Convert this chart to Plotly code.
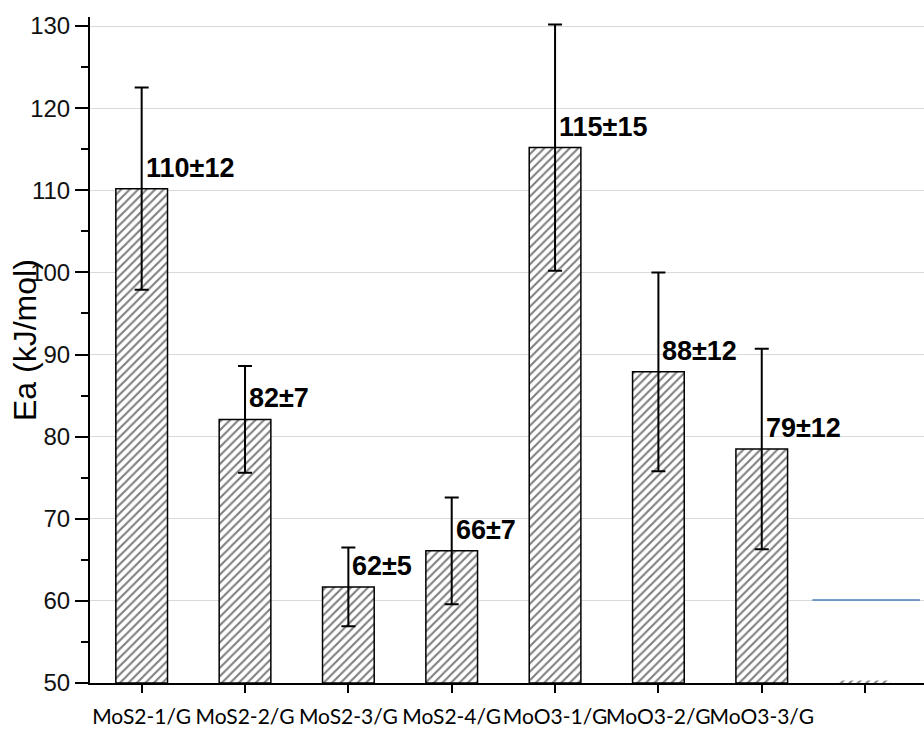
import plotly.graph_objects as go

categories = ["MoS2-1/G", "MoS2-2/G", "MoS2-3/G", "MoS2-4/G",
              "MoO3-1/G", "MoO3-2/G", "MoO3-3/G", ""]
ea_values = [110.2, 82.1, 61.7, 66.1, 115.2, 87.9, 78.5]
ea_errors = [12.3, 6.5, 4.8, 6.5, 15.0, 12.1, 12.2]
value_labels = ["110±12", "82±7", "62±5", "66±7", "115±15", "88±12", "79±12"]

stub_x = [7]
stub_value = [50.3]

ref_line_x = [6.49, 7.53]
ref_line_y = [60.1, 60.1]

x_pos = list(range(len(categories)))
bar_x = x_pos[:len(ea_values)]

hatch = dict(shape="/", fgcolor="black", bgcolor="white", size=6, solidity=0.35)

fig = go.Figure()
fig.add_trace(go.Bar(
    x=bar_x, y=[v - 50 for v in ea_values], base=50,
    width=0.5,
    marker=dict(color="white", line=dict(color="black", width=1.5), pattern=hatch),
    error_y=dict(type="data", array=ea_errors, visible=True,
                 color="black", thickness=2, width=7),
    showlegend=False,
))
fig.add_trace(go.Bar(
    x=stub_x, y=[v - 50 for v in stub_value], base=50,
    width=0.5,
    marker=dict(color="white", line=dict(color="black", width=0), pattern=hatch),
    showlegend=False,
))
fig.add_trace(go.Scatter(
    x=ref_line_x, y=ref_line_y, mode="lines",
    line=dict(color="#4a7ebb", width=1.5), showlegend=False,
))

for xi, v, lab in zip(bar_x, ea_values, value_labels):
    fig.add_annotation(x=xi, y=v, text="<b>%s</b>" % lab, showarrow=False,
                       xanchor="left", yanchor="bottom", xshift=2, yshift=4,
                       font=dict(family="Liberation Sans, Arial", size=27,
                                 color="black"))

fig.add_annotation(x=0, y=0.515, xref="paper", yref="paper", xshift=-65,
                   text="Ea (kJ/mol)", textangle=-90, showarrow=False,
                   xanchor="center", yanchor="middle",
                   font=dict(family="Liberation Sans, Arial", size=32, color="black"))

fig.update_layout(
    width=924, height=729,
    margin=dict(l=90, r=0, t=17, b=46, autoexpand=False),
    plot_bgcolor="white", paper_bgcolor="white",
    barmode="overlay",
)
fig.update_xaxes(
    range=[-0.5, 7.57], tickvals=x_pos, ticktext=categories,
    showline=True, linecolor="black", linewidth=2,
    ticks="outside", ticklen=8, tickwidth=2, tickcolor="black",
    showgrid=False, zeroline=False, ticklabelstandoff=6,
    tickangle=0, automargin=False,
    tickfont=dict(family="Lato", size=21, color="black"),
)
fig.update_yaxes(
    range=[50, 131.1], tickvals=[50, 60, 70, 80, 90, 100, 110, 120, 130],
    showline=True, linecolor="black", linewidth=2,
    ticks="outside", ticklen=13, tickwidth=2, tickcolor="black",
    minor=dict(dtick=5, ticks="outside", ticklen=7, tickwidth=2,
               tickcolor="black", showgrid=False),
    showgrid=True, gridcolor="#d9d9d9", gridwidth=1, zeroline=False,
    automargin=False,
    tickfont=dict(family="Liberation Sans, Arial", size=24, color="#111"),
)

fig.write_html("out.html")
